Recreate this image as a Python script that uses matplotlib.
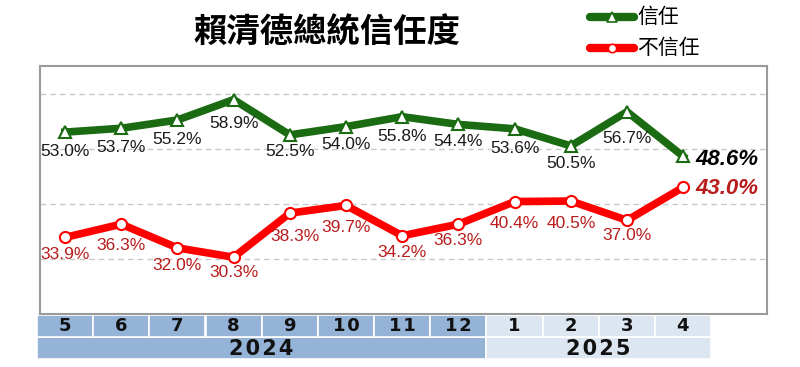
import matplotlib.pyplot as plt
from matplotlib.patches import Rectangle

plt.rcParams['font.family'] = ['Liberation Sans', 'Noto Sans CJK TC', 'DejaVu Sans']

months = ["5", "6", "7", "8", "9", "10", "11", "12", "1", "2", "3", "4"]
years = ["2024", "2025"]
year_counts = [8, 4]
trust = [53.0, 53.7, 55.2, 58.9, 52.5, 54.0, 55.8, 54.4, 53.6, 50.5, 56.7, 48.6]
distrust = [33.9, 36.3, 32.0, 30.3, 38.3, 39.7, 34.2, 36.3, 40.4, 40.5, 37.0, 43.0]

# label offsets below each point (in points)
trust_dy = [-14, -14, -14, -17, -12, -13, -14, -12, -14, -13, -19]
distrust_dy = [-12, -15, -13, -11, -17, -16, -12, -12, -16, -16, -11]
distrust_dx = [0, 0, 0, 0, 4, 0, 0, 0, 0, 0, 0]

GREEN = "#1a6b12"
RED = "#ff0000"
LABEL_RED = "#b81c1c"
DARK_BLUE = "#95b3d7"
LIGHT_BLUE = "#dce6f1"
HAIR = "\u200a"

fig = plt.figure(figsize=(8, 3.67), dpi=100)

# main plot box
ax = fig.add_axes([40 / 800, 1 - 314 / 367, 727 / 800, 248 / 367])
x = list(range(len(months)))
ax.set_xlim(-0.445, 12.49)
ax.set_ylim(20, 65)
for v in [30, 40, 50, 60]:
    ax.axhline(v, color="#c8c8c8", lw=1, ls=(0, (4, 3)), zorder=0)

ax.plot(x, trust, color=GREEN, lw=5.5, marker="^", ms=8, mfc="white",
        mec=GREEN, mew=1.5, zorder=3)
ax.plot(x, distrust, color=RED, lw=5.5, marker="o", ms=8, mfc="white",
        mec=RED, mew=1.5, zorder=3)

for i, v in enumerate(trust[:-1]):
    ax.annotate(f"{v:.1f}%", (i, v), xytext=(0, trust_dy[i]), textcoords="offset points",
                ha="center", va="center", fontsize=12.5, color="#1a1a1a")
for i, v in enumerate(distrust[:-1]):
    ax.annotate(f"{v:.1f}%", (i, v), xytext=(distrust_dx[i], distrust_dy[i]),
                textcoords="offset points",
                ha="center", va="center", fontsize=12.5, color=LABEL_RED)
ax.annotate(f"{trust[-1]:.1f}%", (11, trust[-1]), xytext=(9, -2), textcoords="offset points",
            ha="left", va="center", fontsize=16, fontweight="bold", fontstyle="italic",
            color="black")
ax.annotate(f"{distrust[-1]:.1f}%", (11, distrust[-1]), xytext=(9, -1), textcoords="offset points",
            ha="left", va="center", fontsize=16, fontweight="bold", fontstyle="italic",
            color=LABEL_RED)

ax.set_xticks([])
ax.set_yticks([])
for s in ax.spines.values():
    s.set_color("#9a9a9a")
    s.set_linewidth(1.5)

# month / year table below the plot
tab = fig.add_axes([37 / 800, 1 - 359 / 367, 674 / 800, 44 / 367])
tab.set_xlim(-0.5, len(months) - 0.5)
tab.set_ylim(0, 2)
tab.axis("off")
start = 0
for yr, n in zip(years, year_counts):
    color = DARK_BLUE if yr == years[0] else LIGHT_BLUE
    tab.add_patch(Rectangle((start - 0.5, 0), n, 1, facecolor=color, edgecolor="white", lw=1.2))
    tab.text(start - 0.5 + n / 2, 0.46, HAIR.join(yr), ha="center", va="center",
             fontsize=15, fontweight="bold", color="#111111", family=["DejaVu Sans"])
    for j in range(start, start + n):
        tab.add_patch(Rectangle((j - 0.5, 1), 1, 1, facecolor=color, edgecolor="white", lw=1.2))
        tab.text(j, 1.48, HAIR.join(months[j]), ha="center", va="center",
                 fontsize=13, fontweight="bold", color="#111111", family=["DejaVu Sans"])
    start += n

# title and legend
fig.text(327 / 800, 1 - 33 / 367, "賴清德總統信任度", ha="center", va="center",
         fontsize=24, family=["Noto Sans CJK TC"], fontweight="bold")
lg = fig.add_axes([585 / 800, 1 - 60 / 367, 160 / 800, 58 / 367])
lg.set_xlim(0, 160)
lg.set_ylim(58, 0)
lg.axis("off")
lg.plot([5, 49], [15, 15], color=GREEN, lw=6, solid_capstyle="round")
lg.plot([27], [15], marker="^", ms=7, mfc="white", mec=GREEN, mew=1.2)
lg.text(52, 15, "信任", va="center", ha="left", fontsize=15, family=["Noto Sans CJK TC"])
lg.plot([5, 49], [46, 46], color=RED, lw=6, solid_capstyle="round")
lg.plot([27], [46], marker="o", ms=6, mfc="white", mec=RED, mew=1.2)
lg.text(52, 46, "不信任", va="center", ha="left", fontsize=15, family=["Noto Sans CJK TC"])

fig.savefig("out.png", dpi=100)
